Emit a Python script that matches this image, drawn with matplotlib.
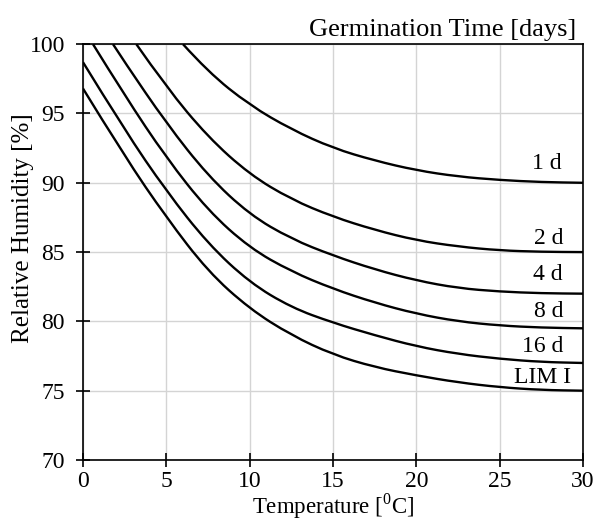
# -*- coding: utf-8 -*-
import numpy as np
import matplotlib
matplotlib.use("Agg")
import matplotlib.pyplot as plt
from matplotlib.path import Path
from matplotlib.patches import PathPatch

# ------------------------------------------------------------
#   isopleth values (temperature -> RH)
# ------------------------------------------------------------
t_1d = [6.0, 7.5, 10, 12.5, 15, 17.5, 20, 22.5, 25, 27.5, 30]
rh_1d = [100, 98.0, 95.6, 93.85, 92.5, 91.6, 90.9, 90.45, 90.2, 90.05, 90.0]

t_2d = [3.2, 5, 7.5, 10, 12.5, 15, 17.5, 20, 22.5, 25, 27.5, 30]
rh_2d = [100, 96.9, 93.3, 90.6, 88.8, 87.55, 86.6, 85.85, 85.4, 85.12, 85.02, 85.0]

t_4d = [1.8, 2.5, 5, 7.5, 10, 12.5, 15, 17.5, 20, 22.5, 25, 27.5, 30]
rh_4d = [100, 98.7, 94.3, 90.5, 87.7, 85.95, 84.75, 83.75, 82.95, 82.4, 82.15, 82.03, 82.0]

t_8d = [0.6, 2.5, 5, 7.5, 10, 12.5, 15, 17.5, 20, 22.5, 25, 27.5, 30]
rh_8d = [100, 96.3, 91.8, 88.0, 85.3, 83.6, 82.35, 81.35, 80.55, 80.0, 79.7, 79.55, 79.5]

t_16d = [0, 2.5, 5, 7.5, 10, 12.5, 15, 17.5, 20, 22.5, 25, 27.5, 30]
rh_16d = [98.7, 93.8, 89.4, 85.6, 82.8, 81.0, 79.9, 79.0, 78.2, 77.65, 77.3, 77.07, 77.0]

t_lim = [0, 2.5, 5, 7.5, 10, 12.5, 15, 17.5, 20, 22.5, 25, 27.5, 30]
rh_lim = [96.8, 91.9, 87.5, 83.6, 80.9, 79.0, 77.6, 76.7, 76.1, 75.6, 75.25, 75.05, 75.0]

curve_labels = ["1 d", "2 d", "4 d", "8 d", "16 d", "LIM I"]
label_x = [28.7, 28.8, 28.8, 28.8, 28.8, 29.3]
label_y = [91.03, 85.62, 82.98, 80.33, 77.81, 75.53]   # baselines

x_ticks = [0, 5, 10, 15, 20, 25, 30]
y_ticks = [70, 75, 80, 85, 90, 95, 100]


def smooth_path(xs, ys):
    # quadratic bezier through mid points (like a "smoothed line" chart)
    pts = np.column_stack([xs, ys])
    verts = [pts[0]]
    codes = [Path.MOVETO]
    for i in range(1, len(pts) - 1):
        mid = (pts[i] + pts[i + 1]) / 2.0
        verts += [pts[i], mid]
        codes += [Path.CURVE3, Path.CURVE3]
    verts.append(pts[-1])
    codes.append(Path.LINETO)
    return Path(verts, codes)


def main():
    plt.rcParams["font.family"] = ["Liberation Serif", "DejaVu Serif"]
    plt.rcParams["mathtext.fontset"] = "custom"
    plt.rcParams["mathtext.rm"] = "Liberation Serif"

    fig = plt.figure(figsize=(5.95, 5.2), dpi=100)
    ax = fig.add_axes([0.1395, 0.1154, 0.8405, 0.7996])

    curves = [(t_1d, rh_1d), (t_2d, rh_2d), (t_4d, rh_4d),
              (t_8d, rh_8d), (t_16d, rh_16d), (t_lim, rh_lim)]
    for (t, rh) in curves:
        patch = PathPatch(smooth_path(t, rh), facecolor="none",
                          edgecolor="black", lw=1.7, zorder=3)
        ax.add_patch(patch)

    # curve labels at the right side
    for lab, x, y in zip(curve_labels, label_x, label_y):
        ax.text(x, y, lab, ha="right", va="baseline", fontsize=17)

    ax.set_xlim(0, 30)
    ax.set_ylim(70, 100)
    ax.set_xticks(x_ticks)
    ax.set_yticks(y_ticks)
    ax.grid(True, color="#d4d4d4", lw=1.0, zorder=0)
    ax.set_axisbelow(True)

    for s in ax.spines.values():
        s.set_color("black")
        s.set_linewidth(1.2)

    ax.tick_params(axis="both", direction="inout", length=10, width=1.2,
                   labelsize=17, colors="black")
    ax.tick_params(axis="x", pad=3)
    ax.tick_params(axis="y", pad=8)

    ax.set_xlabel(r"Temperature [$^{\mathrm{0}}$C]", fontsize=16.5)
    ax.xaxis.label.set_va("baseline")
    ax.xaxis.set_label_coords(0.5, -0.129)
    ax.set_ylabel("Relative Humidity [%]", fontsize=18)
    ax.yaxis.label.set_va("center")
    ax.yaxis.set_label_coords(-0.119, 0.558)

    fig.text(0.968, 1 - 36 / 520, "Germination Time [days]", ha="right",
             va="baseline", fontsize=19)

    plt.savefig("out.png", dpi=100)


if __name__ == '__main__':
    main()
